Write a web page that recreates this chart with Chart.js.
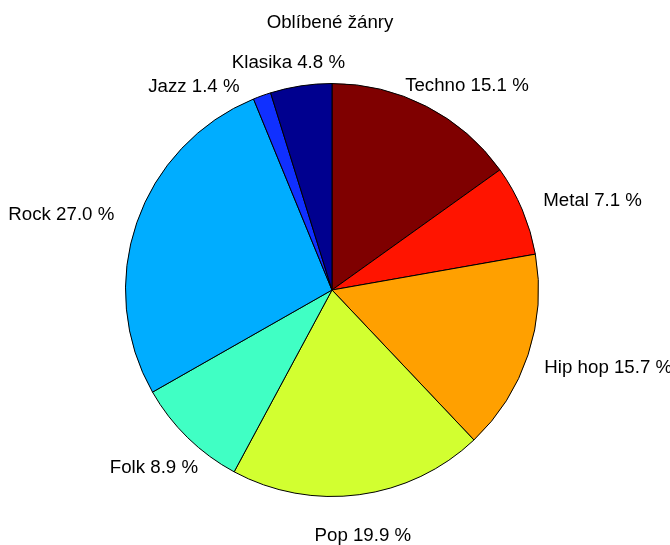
<!DOCTYPE html>
<html>
<head>
<meta charset="utf-8">
<script src="https://cdn.jsdelivr.net/npm/chart.js@4/dist/chart.umd.min.js"></script>
<style>
    html, body { margin: 0; padding: 0; background: #fff; }
    #graf { width: 670px; height: 545px; }
</style>
</head>
<body>
<div id="graf"><canvas id="koláč"></canvas></div>
<script>
// Data
const zanry = ['Techno', 'Metal', 'Hip hop', 'Pop', 'Folk', 'Rock', 'Jazz', 'Klasika'];
const podily = [15.1, 7.1, 15.7, 19.9, 8.9, 27.0, 1.4, 4.8];
const barvy = ['#7f0000', '#ff1400', '#ffa000', '#d2ff30', '#40ffc4', '#00adff', '#1030ff', '#00008f'];
const nadpis = 'Oblíbené žánry';

const PISMO = '18.7px "Liberation Sans", Arial, sans-serif';

// popisky kolem koláče (jako v MATLABu)
const popiskyPlugin = {
    id: 'popisky',
    afterDraw(chart) {
        const ctx = chart.ctx;
        const meta = chart.getDatasetMeta(0);
        ctx.save();
        ctx.font = PISMO;
        ctx.fillStyle = '#000';
        ctx.textAlign = 'center';
        ctx.textBaseline = 'middle';

        // nadpis
        ctx.fillText(nadpis, 330, 23);

        const umistene = [];
        for (let i = meta.data.length - 1; i >= 0; i--) {
            const oblouk = meta.data[i];
            const { x: cx, y: cy, startAngle, endAngle, outerRadius } = oblouk.getProps(['x', 'y', 'startAngle', 'endAngle', 'outerRadius'], true);
            const stred = (startAngle + endAngle) / 2;
            const r = outerRadius * 1.13;
            let ux = Math.cos(stred), uy = Math.sin(stred);
            const text = `${zanry[i]} ${podily[i].toFixed(1)} %`;
            const w = ctx.measureText(text).width;
            const h = 18;
            // dole se popisky odsouvají méně do stran a více dolů
            const f = uy > 0 ? 1 - uy * uy : 1;
            let tx = cx + r * ux + f * ux * w / 2;
            let ty = cy + r * uy + (uy > 0 ? uy * 15 : -uy * 4);

            // posun dolů, pokud se překrývá s již umístěným popiskem
            for (const b of umistene) {
                if (Math.abs(tx - b.x) < (w + b.w) / 2 && Math.abs(ty - b.y) < h + 4) {
                    ty = b.y + 24;
                    const dy = ty - cy;
                    const dx = Math.sign(ux) * Math.sqrt(Math.max(r * r - dy * dy, 0));
                    ux = dx / r;
                    tx = cx + dx + ux * w / 2;
                }
            }
            umistene.push({ x: tx, y: ty, w });
            ctx.fillText(text, tx, ty);
        }
        ctx.restore();
    }
};

new Chart(document.getElementById('koláč'), {
    type: 'pie',
    data: {
        labels: zanry,
        datasets: [{
            data: podily,
            backgroundColor: barvy,
            borderColor: '#000',
            borderWidth: 1
        }]
    },
    options: {
        responsive: true,
        maintainAspectRatio: false,
        animation: false,
        layout: { padding: { top: 83, bottom: 48, left: 125, right: 131 } },
        plugins: {
            legend: { display: false },
            tooltip: { enabled: false },
            title: { display: false }
        }
    },
    plugins: [popiskyPlugin]
});
</script>
</body>
</html>
